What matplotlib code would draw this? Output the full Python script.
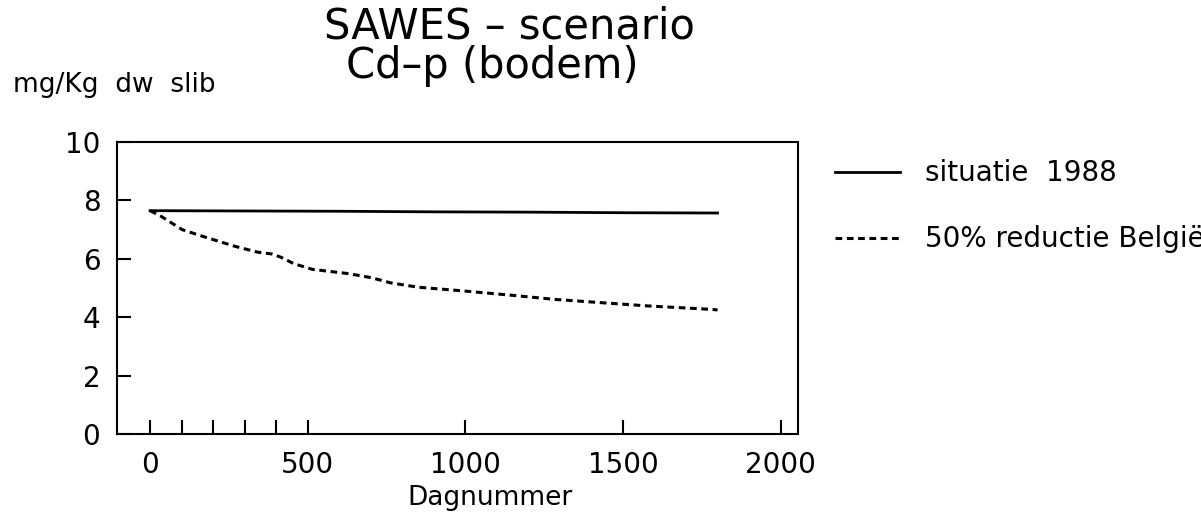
import numpy as np
import matplotlib.pyplot as plt

# values
dagen_basis = [0, 300, 600, 900, 1200, 1500, 1800]
cd_basis = [7.65, 7.64, 7.63, 7.61, 7.60, 7.58, 7.57]

dagen_reductie = [0, 36, 102, 167, 269, 341, 385, 414, 457, 515, 632, 704,
                  762, 849, 995, 1140, 1285, 1430, 1575, 1779, 1800]
cd_reductie = [7.65, 7.45, 7.00, 6.77, 6.43, 6.23, 6.17, 6.06, 5.83, 5.64,
               5.49, 5.35, 5.18, 5.03, 4.90, 4.76, 4.61, 4.50, 4.39, 4.27, 4.25]

x_ticks = [0, 100, 200, 300, 400, 500, 1000, 1500, 2000]
x_labels = ["0", "", "", "", "", "500", "1000", "1500", "2000"]
y_ticks = [0, 2, 4, 6, 8, 10]

fig = plt.figure(figsize=(12.01, 5.14), dpi=100)
ax = fig.add_axes([0.0974, 0.1556, 0.567, 0.568])

ax.plot(dagen_basis, cd_basis, color="black", lw=2.0, label="situatie  1988")
ax.plot(dagen_reductie, cd_reductie, color="black", lw=2.2,
        linestyle=(0, (2.2, 1.5)), label="50% reductie België")

ax.set_xlim(-105, 2055)
ax.set_ylim(0, 10)
ax.set_xticks(x_ticks)
ax.set_xticklabels(x_labels)
ax.set_yticks(y_ticks)
ax.tick_params(direction="in", length=10, width=1.5, labelsize=20, pad=12)
for s in ax.spines.values():
    s.set_linewidth(1.5)

ax.set_xlabel("Dagnummer", fontsize=19)
ax.xaxis.set_label_coords(0.548, -0.175)
fig.text(0.011, 0.835, "mg/Kg  dw  slib", fontsize=19, va="center")
fig.text(0.424, 0.948, "SAWES \u2013 scenario", fontsize=30, ha="center", va="center")
fig.text(0.41, 0.872, "Cd\u2013p (bodem)", fontsize=30, ha="center", va="center")

ax.legend(loc="upper left", bbox_to_anchor=(0.695, 0.69),
          bbox_transform=fig.transFigure, frameon=False, fontsize=20,
          borderpad=0, borderaxespad=0, handlelength=2.34,
          handletextpad=0.9, labelspacing=1.37)

fig.savefig("out.png", dpi=100)
